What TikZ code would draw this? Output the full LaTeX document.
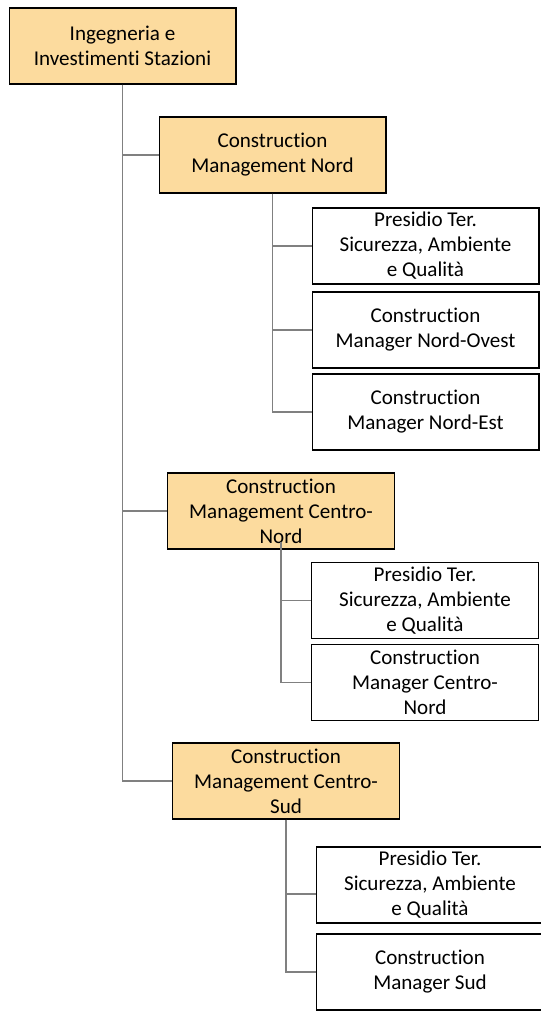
\documentclass[tikz,border=0pt]{standalone}
\usepackage{fontspec}
\setmainfont{Carlito}[Ligatures={NoCommon}]
\definecolor{headfill}{RGB}{252,219,158}
\definecolor{linkgray}{RGB}{128,128,128}
\begin{document}
\begin{tikzpicture}[x=0.75pt,y=-0.75pt,
    unit/.style={draw=black,line width=1pt,minimum width=170pt,minimum height=57pt,
      inner sep=0pt,align=center,font=\fontsize{15.8pt}{18.75pt}\selectfont},
    head/.style={unit,fill=headfill},
    leaf/.style={unit,fill=white},
    link/.style={draw=linkgray,line width=1.4pt}]
    \useasboundingbox (0,0) rectangle (541,1011);

    % 顶层单位
    \node[head] (ies) at (122.5,46) {Ingegneria e\\Investimenti Stazioni};

    % 第一组: Nord
    \node[head] (cmn) at (272.5,155) {Construction\\Management Nord};
    \node[leaf] (pn1) at (425.5,246) {Presidio Ter.\\Sicurezza, Ambiente\\e Qualità};
    \node[leaf] (pn2) at (425.5,330) {Construction\\Manager Nord-Ovest};
    \node[leaf] (pn3) at (425.5,412) {Construction\\Manager Nord-Est};

    % 第二组: Centro-Nord
    \node[head] (cmcn) at (281,511) {Construction\\Management Centro-\\Nord};
    \node[leaf] (pcn1) at (425,600.5) {Presidio Ter.\\Sicurezza, Ambiente\\e Qualità};
    \node[leaf] (pcn2) at (425,682.5) {Construction\\Manager Centro-\\Nord};

    % 第三组: Centro-Sud (右边被裁掉)
    \node[head] (cmcs) at (286,781) {Construction\\Management Centro-\\Sud};
    \node[leaf] (pcs1) at (430,885) {Presidio Ter.\\Sicurezza, Ambiente\\e Qualità};
    \node[leaf] (pcs2) at (430,972) {Construction\\Manager Sud};

    % 连接线
    \foreach \t in {cmn,cmcn,cmcs}
        \draw[link] (ies.south) |- (\t.west);
    \foreach \t in {pn1,pn2,pn3}
        \draw[link] (cmn.south) |- (\t.west);
    \foreach \t in {pcn1,pcn2}
        \draw[link] ([yshift=6pt]cmcn.south) |- (\t.west);
    \draw[link] (cmcs.south) |- ([yshift=-6.75pt]pcs1.west);
    \draw[link] (cmcs.south) |- (pcs2.west);
\end{tikzpicture}
\end{document}
